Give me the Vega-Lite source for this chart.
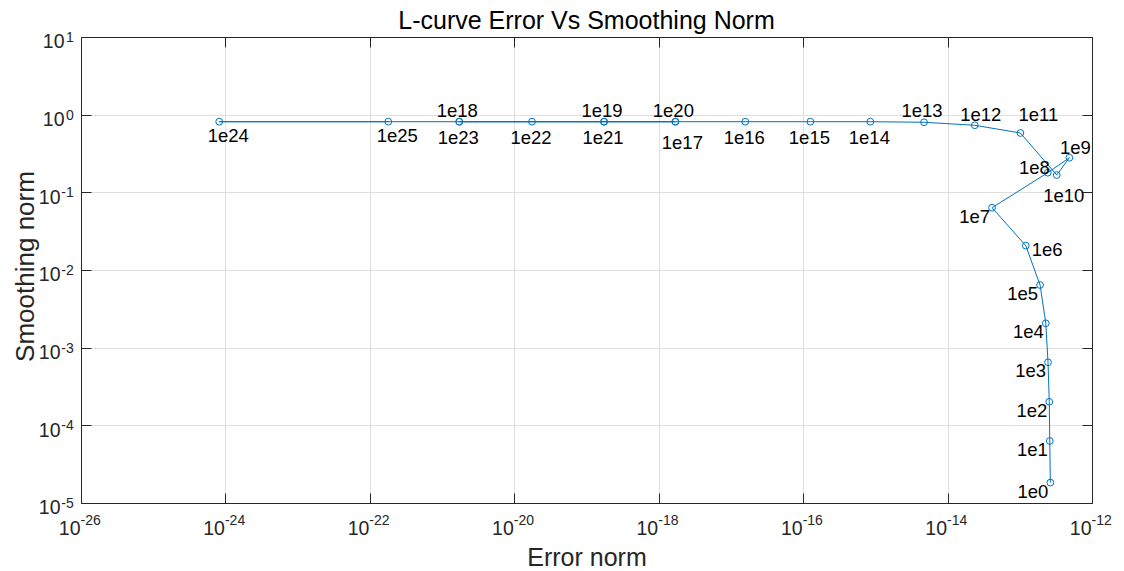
{
  "$schema": "https://vega.github.io/schema/vega-lite/v6.json",
  "width": 1011,
  "height": 466,
  "autosize": {"type": "none"},
  "padding": {"left": 81, "top": 37, "right": 32, "bottom": 68},
  "background": "#ffffff",
  "config": {"view": {"stroke": null}, "font": "Liberation Sans"},
  "title": {
    "text": "L-curve Error Vs Smoothing Norm",
    "font": "Liberation Sans",
    "fontSize": 25,
    "fontWeight": "normal",
    "color": "#000000",
    "baseline": "alphabetic",
    "offset": 8,
    "dy": 31
  },
  "data": {
    "values": [
      {"k": 0, "lam": "1e0", "err": 2.65e-13, "smooth": 1.83e-5, "pos": "left"},
      {"k": 1, "lam": "1e1", "err": 2.60e-13, "smooth": 6.29e-5, "pos": "left"},
      {"k": 2, "lam": "1e2", "err": 2.56e-13, "smooth": 2.01e-4, "pos": "left"},
      {"k": 3, "lam": "1e3", "err": 2.46e-13, "smooth": 6.48e-4, "pos": "left"},
      {"k": 4, "lam": "1e4", "err": 2.29e-13, "smooth": 2.06e-3, "pos": "left"},
      {"k": 5, "lam": "1e5", "err": 1.91e-13, "smooth": 6.41e-3, "pos": "left"},
      {"k": 6, "lam": "1e6", "err": 1.21e-13, "smooth": 2.06e-2, "pos": "right"},
      {"k": 7, "lam": "1e7", "err": 4.13e-14, "smooth": 6.34e-2, "pos": "left"},
      {"k": 8, "lam": "1e8", "err": 2.44e-13, "smooth": 0.179, "pos": "beside"},
      {"k": 9, "lam": "1e9", "err": 4.86e-13, "smooth": 0.279, "pos": "aboveright"},
      {"k": 10, "lam": "1e10", "err": 3.25e-13, "smooth": 0.167, "pos": "low"},
      {"k": 11, "lam": "1e11", "err": 1.02e-13, "smooth": 0.581, "pos": "upper"},
      {"k": 12, "lam": "1e12", "err": 2.38e-14, "smooth": 0.730, "pos": "aboveright"},
      {"k": 13, "lam": "1e13", "err": 4.72e-15, "smooth": 0.798, "pos": "above"},
      {"k": 14, "lam": "1e14", "err": 8.53e-16, "smooth": 0.812, "pos": "below"},
      {"k": 15, "lam": "1e15", "err": 1.26e-16, "smooth": 0.812, "pos": "below"},
      {"k": 16, "lam": "1e16", "err": 1.58e-17, "smooth": 0.812, "pos": "below"},
      {"k": 17, "lam": "1e17", "err": 1.70e-18, "smooth": 0.812, "pos": "low"},
      {"k": 18, "lam": "1e18", "err": 1.73e-21, "smooth": 0.812, "pos": "above"},
      {"k": 19, "lam": "1e19", "err": 1.75e-19, "smooth": 0.812, "pos": "above"},
      {"k": 20, "lam": "1e20", "err": 1.70e-18, "smooth": 0.812, "pos": "above"},
      {"k": 21, "lam": "1e21", "err": 1.75e-19, "smooth": 0.812, "pos": "below"},
      {"k": 22, "lam": "1e22", "err": 1.76e-20, "smooth": 0.812, "pos": "below"},
      {"k": 23, "lam": "1e23", "err": 1.73e-21, "smooth": 0.812, "pos": "below"},
      {"k": 24, "lam": "1e24", "err": 8.2e-25, "smooth": 0.812, "pos": "belowright"},
      {"k": 25, "lam": "1e25", "err": 1.80e-22, "smooth": 0.812, "pos": "belowright"}
    ]
  },
  "encoding": {
    "x": {"field": "err", "type": "quantitative", "scale": {"type": "log", "domain": [1e-26, 1e-12], "nice": false}, "axis": null},
    "y": {"field": "smooth", "type": "quantitative", "scale": {"type": "log", "domain": [1e-5, 10], "nice": false}, "axis": null}
  },
  "layer": [
    {
      "mark": {"type": "line", "color": "#0072BD", "strokeWidth": 1},
      "encoding": {
        "order": {"field": "k", "type": "quantitative"},
        "x": {
          "field": "err", "type": "quantitative",
          "scale": {"type": "log", "domain": [1e-26, 1e-12], "nice": false},
          "axis": {
            "orient": "bottom",
            "values": [1e-26, 1e-24, 1e-22, 1e-20, 1e-18, 1e-16, 1e-14, 1e-12],
            "grid": true, "gridColor": "#DFDFDF", "gridWidth": 1,
            "domain": true, "domainColor": "#262626", "domainWidth": 1,
            "ticks": true, "tickSize": -10, "tickColor": "#262626", "tickWidth": 1,
            "labelExpr": "'10'",
            "labelAlign": "right", "labelBaseline": "alphabetic",
            "labelPadding": 41, "labelOffset": -1,
            "labelFont": "Liberation Sans", "labelFontSize": 19.5, "labelColor": "#262626",
            "labelFlush": false, "labelOverlap": false,
            "title": "Error norm",
            "titleFont": "Liberation Sans", "titleFontSize": 25, "titleFontWeight": "normal", "titleColor": "#262626",
            "titleX": 505.5, "titleY": 62, "titleBaseline": "alphabetic", "titleAlign": "center"
          }
        },
        "y": {
          "field": "smooth", "type": "quantitative",
          "scale": {"type": "log", "domain": [1e-5, 10], "nice": false},
          "axis": {
            "orient": "left",
            "values": [1e-5, 1e-4, 1e-3, 1e-2, 1e-1, 1, 10],
            "grid": true, "gridColor": "#DFDFDF", "gridWidth": 1,
            "domain": true, "domainColor": "#262626", "domainWidth": 1,
            "ticks": true, "tickSize": -10, "tickColor": "#262626", "tickWidth": 1,
            "labelExpr": "'10'",
            "labelAlign": "right", "labelBaseline": "alphabetic",
            "labelPadding": {"condition": {"test": "datum.value > 0.5", "value": 27}, "value": 31},
            "labelOffset": 10.7,
            "labelFont": "Liberation Sans", "labelFontSize": 19.5, "labelColor": "#262626",
            "labelFlush": false, "labelOverlap": false,
            "title": "Smoothing norm",
            "titleFont": "Liberation Sans", "titleFontSize": 26, "titleFontWeight": "normal", "titleColor": "#262626",
            "titleX": -47.7, "titleY": 229, "titleBaseline": "alphabetic", "titleAlign": "center", "titleAngle": -90
          }
        }
      }
    },
    {
      "mark": {"type": "point", "shape": "circle", "filled": false, "size": 46, "strokeWidth": 1, "color": "#0072BD", "opacity": 1},
      "encoding": {
        "x": {
          "field": "err", "type": "quantitative",
          "scale": {"type": "log", "domain": [1e-26, 1e-12], "nice": false},
          "axis": {
            "orient": "bottom",
            "values": [1e-26, 1e-24, 1e-22, 1e-20, 1e-18, 1e-16, 1e-14, 1e-12],
            "grid": false, "domain": false, "ticks": false,
            "labelExpr": "'' + round(log(datum.value) / LN10)",
            "labelAlign": "left", "labelBaseline": "alphabetic",
            "labelPadding": 21, "labelOffset": -1,
            "labelFont": "Liberation Sans", "labelFontSize": 14, "labelColor": "#262626",
            "labelFlush": false, "labelOverlap": false,
            "title": null
          }
        },
        "y": {
          "field": "smooth", "type": "quantitative",
          "scale": {"type": "log", "domain": [1e-5, 10], "nice": false},
          "axis": {
            "orient": "left",
            "values": [1e-5, 1e-4, 1e-3, 1e-2, 1e-1, 1, 10],
            "grid": false, "domain": false, "ticks": false,
            "labelExpr": "'' + round(log(datum.value) / LN10)",
            "labelAlign": "right", "labelBaseline": "alphabetic",
            "labelPadding": 7.7, "labelOffset": 4.5,
            "labelFont": "Liberation Sans", "labelFontSize": 14, "labelColor": "#262626",
            "labelFlush": false, "labelOverlap": false,
            "title": null
          }
        }
      }
    },
    {
      "transform": [{"filter": "datum.pos === 'below'"}],
      "mark": {"type": "text", "align": "center", "baseline": "alphabetic", "dx": -1, "dy": 22, "fontSize": 18.5, "font": "Liberation Sans", "color": "#000000"},
      "encoding": {
        "text": {"field": "lam"},
        "x": {
          "field": "err", "type": "quantitative",
          "scale": {"type": "log", "domain": [1e-26, 1e-12], "nice": false},
          "axis": {
            "orient": "top",
            "values": [1e-26, 1e-24, 1e-22, 1e-20, 1e-18, 1e-16, 1e-14, 1e-12],
            "grid": false, "labels": false, "title": null,
            "domain": true, "domainColor": "#262626", "domainWidth": 1,
            "ticks": true, "tickSize": -10, "tickColor": "#262626", "tickWidth": 1
          }
        },
        "y": {
          "field": "smooth", "type": "quantitative",
          "scale": {"type": "log", "domain": [1e-5, 10], "nice": false},
          "axis": {
            "orient": "right",
            "values": [1e-5, 1e-4, 1e-3, 1e-2, 1e-1, 1, 10],
            "grid": false, "labels": false, "title": null,
            "domain": true, "domainColor": "#262626", "domainWidth": 1,
            "ticks": true, "tickSize": -10, "tickColor": "#262626", "tickWidth": 1
          }
        }
      }
    },
    {
      "transform": [{"filter": "datum.pos === 'belowright'"}],
      "mark": {"type": "text", "align": "center", "baseline": "alphabetic", "dx": 9, "dy": 20, "fontSize": 18.5, "font": "Liberation Sans", "color": "#000000"},
      "encoding": {"text": {"field": "lam"}}
    },
    {
      "transform": [{"filter": "datum.pos === 'low'"}],
      "mark": {"type": "text", "align": "center", "baseline": "alphabetic", "dx": 7, "dy": 27, "fontSize": 18.5, "font": "Liberation Sans", "color": "#000000"},
      "encoding": {"text": {"field": "lam"}}
    },
    {
      "transform": [{"filter": "datum.pos === 'above'"}],
      "mark": {"type": "text", "align": "center", "baseline": "alphabetic", "dx": -2, "dy": -5, "fontSize": 18.5, "font": "Liberation Sans", "color": "#000000"},
      "encoding": {"text": {"field": "lam"}}
    },
    {
      "transform": [{"filter": "datum.pos === 'aboveright'"}],
      "mark": {"type": "text", "align": "center", "baseline": "alphabetic", "dx": 6, "dy": -4, "fontSize": 18.5, "font": "Liberation Sans", "color": "#000000"},
      "encoding": {"text": {"field": "lam"}}
    },
    {
      "transform": [{"filter": "datum.pos === 'upper'"}],
      "mark": {"type": "text", "align": "center", "baseline": "alphabetic", "dx": 18, "dy": -12, "fontSize": 18.5, "font": "Liberation Sans", "color": "#000000"},
      "encoding": {"text": {"field": "lam"}}
    },
    {
      "transform": [{"filter": "datum.pos === 'left'"}],
      "mark": {"type": "text", "align": "right", "baseline": "alphabetic", "dx": -2, "dy": 15, "fontSize": 18.5, "font": "Liberation Sans", "color": "#000000"},
      "encoding": {"text": {"field": "lam"}}
    },
    {
      "transform": [{"filter": "datum.pos === 'beside'"}],
      "mark": {"type": "text", "align": "right", "baseline": "alphabetic", "dx": 2, "dy": 1, "fontSize": 18.5, "font": "Liberation Sans", "color": "#000000"},
      "encoding": {"text": {"field": "lam"}}
    },
    {
      "transform": [{"filter": "datum.pos === 'right'"}],
      "mark": {"type": "text", "align": "left", "baseline": "alphabetic", "dx": 6, "dy": 10, "fontSize": 18.5, "font": "Liberation Sans", "color": "#000000"},
      "encoding": {"text": {"field": "lam"}}
    }
  ],
  "resolve": {"axis": {"x": "independent", "y": "independent"}}
}
